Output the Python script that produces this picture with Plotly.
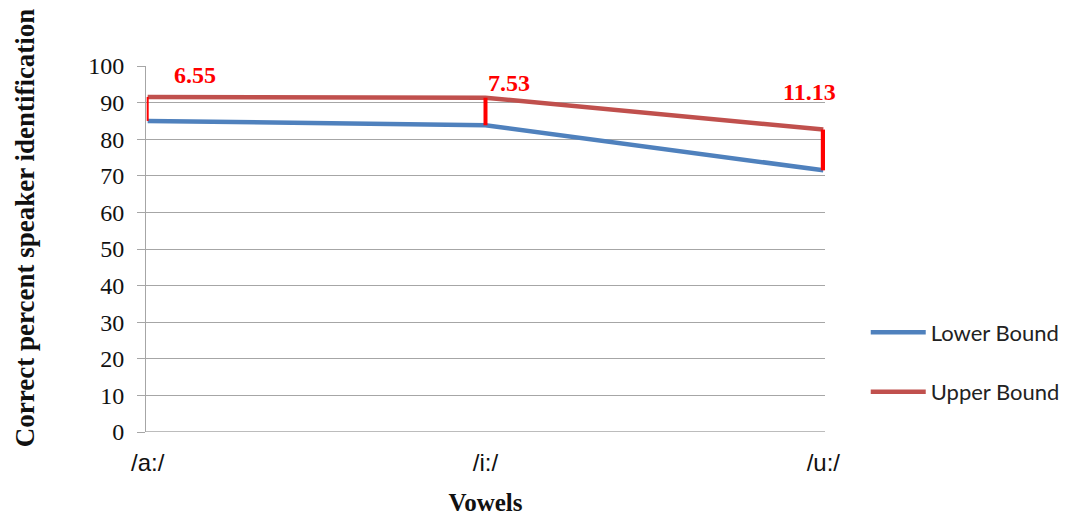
import plotly.graph_objects as go

# Identification rates per vowel
vowels = ["/a:/", "/i:/", "/u:/"]
lower_bound = [85.0, 83.8, 71.5]
upper_bound = [91.55, 91.33, 82.63]
gap_labels = ["6.55", "7.53", "11.13"]
gap_widths = [2, 4, 5]
y_ticks = [0, 10, 20, 30, 40, 50, 60, 70, 80, 90, 100]

serif = "Liberation Serif, Times New Roman, serif"

fig = go.Figure()

fig.add_trace(go.Scatter(
    x=vowels, y=lower_bound, mode="lines", name="Lower Bound",
    legendgroup="lower",
    line=dict(color="#4F81BD", width=4.5),
))
fig.add_trace(go.Scatter(
    x=vowels, y=upper_bound, mode="lines", name="Upper Bound",
    legendgroup="upper",
    line=dict(color="#C0504D", width=4.5),
))

# Red bars marking the gap between bounds at each vowel
for v, lo, hi, w in zip(vowels, lower_bound, upper_bound, gap_widths):
    fig.add_trace(go.Scatter(
        x=[v, v], y=[lo, hi], mode="lines", showlegend=False,
        line=dict(color="#FF0000", width=w), hoverinfo="skip",
    ))

label_font = dict(family=serif, size=24, color="#FF0000")
label_pos = [(0, 97.5, "left", 24), (1, 95.3, "left", 0), (2, 93.0, "right", 15)]
for (i, y, anchor, dx), txt in zip(label_pos, gap_labels):
    fig.add_annotation(
        x=vowels[i], y=y, text=f"<b>{txt}</b>", showarrow=False,
        xanchor=anchor, yanchor="middle", xshift=dx, font=label_font,
    )

# Vertical axis title
fig.add_annotation(
    xref="paper", yref="paper", x=-0.178, y=0.557, textangle=-90,
    text="<b>Correct percent speaker identification</b>", showarrow=False,
    xanchor="center", yanchor="middle",
    font=dict(family=serif, size=27, color="#111111"),
)

fig.update_layout(
    width=1081, height=523,
    margin=dict(l=146, r=256, t=66, b=91, autoexpand=False),
    paper_bgcolor="white", plot_bgcolor="white",
    legend=dict(
        x=1.06, xanchor="left", xref="paper", y=0.19, yanchor="middle",
        font=dict(family="Lato, Open Sans, sans-serif", size=22, color="#222222"),
        tracegroupgap=28, itemwidth=55, traceorder="grouped",
        bgcolor="rgba(0,0,0,0)",
    ),
    xaxis=dict(
        type="category", range=[-0.005, 2.005], showgrid=False, automargin=False,
        showline=False, zeroline=False, ticks="", ticklabelstandoff=14,
        tickfont=dict(family="Liberation Sans Narrow, Arial Narrow, sans-serif",
                      size=24, color="#111111"),
        title=dict(text="<b>Vowels</b>", standoff=18,
                   font=dict(family=serif, size=25, color="#111111")),
    ),
    yaxis=dict(
        range=[0, 100], tickvals=y_ticks, showgrid=True, gridcolor="#A6A6A6",
        gridwidth=1, showline=True, linecolor="#A6A6A6", linewidth=1, automargin=False,
        ticks="outside", ticklen=8, tickcolor="#A6A6A6", zeroline=False,
        ticklabelstandoff=8,
        tickfont=dict(family=serif, size=24, color="#111111"),
    ),
)

# Baseline at zero
fig.add_hline(y=0, line=dict(color="#A6A6A6", width=1.5))

fig.write_html("out.html")
